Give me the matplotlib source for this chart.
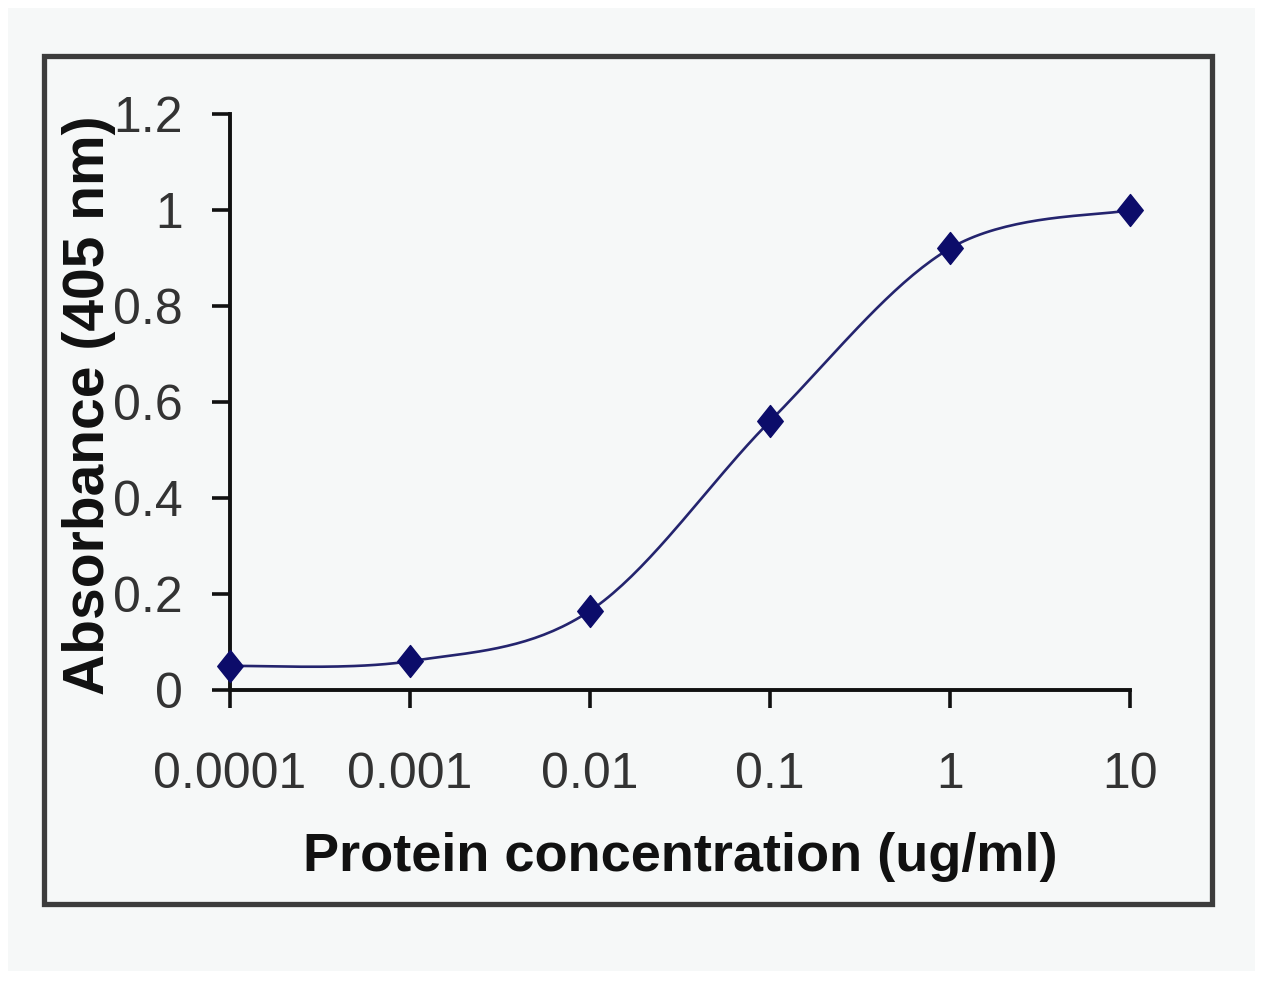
import numpy as np
import matplotlib.pyplot as plt
from matplotlib.patches import Rectangle
from matplotlib.path import Path

conc = [0.0001, 0.001, 0.01, 0.1, 1, 10]
absorb = [0.05, 0.06, 0.165, 0.56, 0.92, 1.0]
xtick_labels = ["0.0001", "0.001", "0.01", "0.1", "1", "10"]
ytick_vals = [0, 0.2, 0.4, 0.6, 0.8, 1, 1.2]
ytick_labels = ["0", "0.2", "0.4", "0.6", "0.8", "1", "1.2"]

navy = "#0c0c6a"
font = ["Liberation Sans"]

W, H = 1280, 998
fig = plt.figure(figsize=(W / 100, H / 100), dpi=100, facecolor="white")

# light grey page + chart border, in pixel positions
fig.patches.append(Rectangle((8 / W, 1 - 971 / H), (1255 - 8) / W, (971 - 8) / H,
                             transform=fig.transFigure, facecolor="#f6f8f8",
                             edgecolor="none", zorder=-3))
fig.patches.append(Rectangle((44 / W, 1 - 904 / H), (1212 - 44) / W, (904 - 56) / H,
                             transform=fig.transFigure, facecolor="none",
                             edgecolor="#3c3c3c", linewidth=3.8, zorder=-2))

ax = fig.add_axes([230 / W, 1 - 690 / H, 900 / W, 576 / H])
ax.set_facecolor("none")
ax.set_zorder(2)

# excel-style smoothed line (bezier through the points in screen-ish space)
lx = np.log10(conc)
U = (lx + 4) * 180.0
V = np.array(absorb) * 480.0
P = np.column_stack([U, V])
n = len(P)
segs_x, segs_y = [], []
t = np.linspace(0, 1, 40)
for i in range(n - 1):
    p0 = P[i - 1] if i > 0 else P[i]
    p1 = P[i]
    p2 = P[i + 1]
    p3 = P[i + 2] if i + 2 < n else P[i + 1]
    c1 = p1 + (p2 - p0) / 6.0
    c2 = p2 - (p3 - p1) / 6.0
    b = ((1 - t) ** 3)[:, None] * p1 + (3 * (1 - t) ** 2 * t)[:, None] * c1 \
        + (3 * (1 - t) * t ** 2)[:, None] * c2 + (t ** 3)[:, None] * p2
    segs_x.append(b[:, 0])
    segs_y.append(b[:, 1])
sx = 10 ** (np.concatenate(segs_x) / 180.0 - 4)
sy = np.concatenate(segs_y) / 480.0
ax.plot(sx, sy, color="#24246e", lw=1.9, clip_on=False, zorder=3)

diamond = Path([(0, 1), (0.8, 0), (0, -1), (-0.8, 0), (0, 1)],
               [Path.MOVETO, Path.LINETO, Path.LINETO, Path.LINETO, Path.CLOSEPOLY])
ax.plot(conc, absorb, ls="none", marker=diamond, ms=23, color=navy,
        mec=navy, clip_on=False, zorder=4)

ax.set_xscale("log")
ax.set_xlim(1e-4, 10)
ax.set_ylim(0, 1.2)
ax.set_xticks(conc)
ax.set_xticklabels(xtick_labels)
ax.xaxis.set_minor_locator(plt.NullLocator())
ax.set_yticks(ytick_vals)
ax.set_yticklabels(ytick_labels)

for s in ["top", "right"]:
    ax.spines[s].set_visible(False)
for s in ["left", "bottom"]:
    ax.spines[s].set_linewidth(2.8)
    ax.spines[s].set_color("#111111")

ax.tick_params(axis="both", length=13, width=2.6, color="#111111",
               labelcolor="#333333")
ax.tick_params(axis="x", pad=32)
ax.tick_params(axis="y", pad=21)
for lab in ax.get_xticklabels() + ax.get_yticklabels():
    lab.set_fontfamily(font)
    lab.set_fontsize(36)

ax.set_xlabel("Protein concentration (ug/ml)", fontsize=39, fontweight="bold",
              family=font, color="#111111")
ax.xaxis.set_label_coords(0.5, -0.29)
ax.xaxis.label.set_va("center")
ax.set_ylabel("Absorbance (405 nm)", fontsize=41, fontweight="bold",
              family=font, color="#111111")
ax.yaxis.set_label_coords(-0.157, 0.495)
ax.yaxis.label.set_va("center")

fig.savefig("out.png", dpi=100, facecolor="white")
